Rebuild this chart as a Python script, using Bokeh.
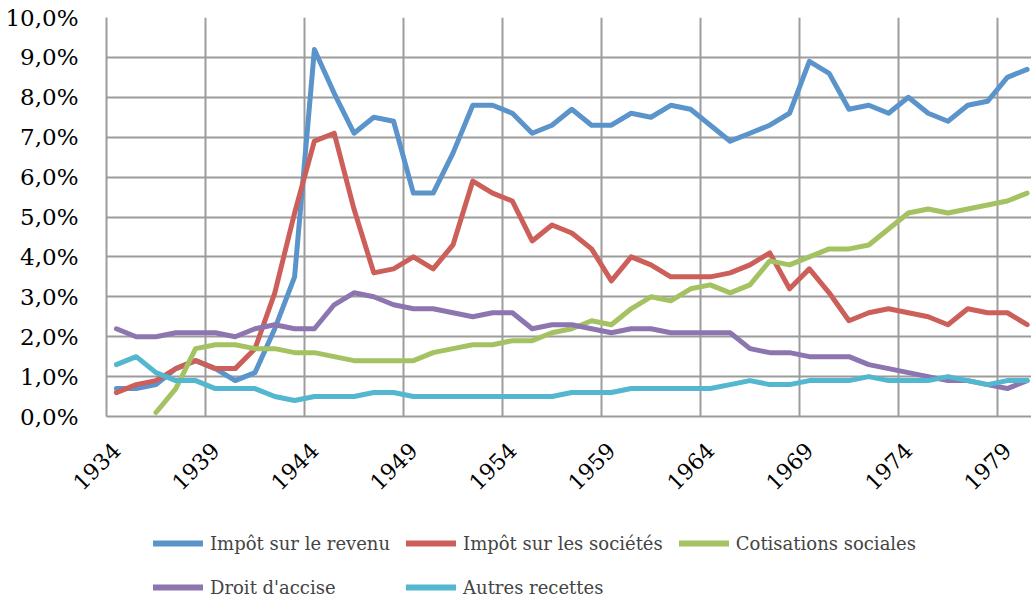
import math
from bokeh.plotting import figure
from bokeh.layouts import column
from bokeh.models import Range1d, FixedTicker, Legend, LegendItem
from bokeh.embed import file_html
from bokeh.resources import INLINE

years = list(range(1934, 1981))
nan = float("nan")

impot_revenu = [0.7, 0.7, 0.8, 1.2, 1.4, 1.2, 0.9, 1.1, 2.2, 3.5,
                9.2, 8.1, 7.1, 7.5, 7.4, 5.6, 5.6, 6.6, 7.8, 7.8,
                7.6, 7.1, 7.3, 7.7, 7.3, 7.3, 7.6, 7.5, 7.8, 7.7,
                7.3, 6.9, 7.1, 7.3, 7.6, 8.9, 8.6, 7.7, 7.8, 7.6,
                8.0, 7.6, 7.4, 7.8, 7.9, 8.5, 8.7]
impot_societes = [0.6, 0.8, 0.9, 1.2, 1.4, 1.2, 1.2, 1.7, 3.1, 5.1,
                  6.9, 7.1, 5.2, 3.6, 3.7, 4.0, 3.7, 4.3, 5.9, 5.6,
                  5.4, 4.4, 4.8, 4.6, 4.2, 3.4, 4.0, 3.8, 3.5, 3.5,
                  3.5, 3.6, 3.8, 4.1, 3.2, 3.7, 3.1, 2.4, 2.6, 2.7,
                  2.6, 2.5, 2.3, 2.7, 2.6, 2.6, 2.3]
cotisations = [nan, nan, 0.1, 0.7, 1.7, 1.8, 1.8, 1.7, 1.7, 1.6,
               1.6, 1.5, 1.4, 1.4, 1.4, 1.4, 1.6, 1.7, 1.8, 1.8,
               1.9, 1.9, 2.1, 2.2, 2.4, 2.3, 2.7, 3.0, 2.9, 3.2,
               3.3, 3.1, 3.3, 3.9, 3.8, 4.0, 4.2, 4.2, 4.3, 4.7,
               5.1, 5.2, 5.1, 5.2, 5.3, 5.4, 5.6]
droit_accise = [2.2, 2.0, 2.0, 2.1, 2.1, 2.1, 2.0, 2.2, 2.3, 2.2,
                2.2, 2.8, 3.1, 3.0, 2.8, 2.7, 2.7, 2.6, 2.5, 2.6,
                2.6, 2.2, 2.3, 2.3, 2.2, 2.1, 2.2, 2.2, 2.1, 2.1,
                2.1, 2.1, 1.7, 1.6, 1.6, 1.5, 1.5, 1.5, 1.3, 1.2,
                1.1, 1.0, 0.9, 0.9, 0.8, 0.7, 0.9]
autres = [1.3, 1.5, 1.1, 0.9, 0.9, 0.7, 0.7, 0.7, 0.5, 0.4,
          0.5, 0.5, 0.5, 0.6, 0.6, 0.5, 0.5, 0.5, 0.5, 0.5,
          0.5, 0.5, 0.5, 0.6, 0.6, 0.6, 0.7, 0.7, 0.7, 0.7,
          0.7, 0.8, 0.9, 0.8, 0.8, 0.9, 0.9, 0.9, 1.0, 0.9,
          0.9, 0.9, 1.0, 0.9, 0.8, 0.9, 0.9]

series_names = ["Impôt sur le revenu", "Impôt sur les sociétés", "Cotisations sociales",
                "Droit d'accise", "Autres recettes"]
series_values = [impot_revenu, impot_societes, cotisations, droit_accise, autres]
colors = ["#5A94CB", "#CC5F59", "#A5C262", "#8D75B0", "#52B7CF"]

x_label_years = list(range(1934, 1980, 5))
y_ticks = list(range(0, 11))
y_labels = {t: f"{t},0%" for t in y_ticks}

FONT = "DejaVu Serif"
GRID = "#9C9C9C"

p = figure(frame_width=925, frame_height=399,
           x_range=Range1d(1933.5, 1980.22), y_range=Range1d(0, 10),
           output_backend="svg", toolbar_location=None,
           min_border_left=106, min_border_top=17, min_border_right=0, min_border_bottom=100)
p.outline_line_color = None
p.background_fill_color = "white"

# axes
p.xaxis.ticker = FixedTicker(ticks=x_label_years)
p.xaxis.major_label_orientation = math.pi / 4
p.yaxis.ticker = FixedTicker(ticks=y_ticks)
p.yaxis.major_label_overrides = y_labels
for ax in (p.xaxis, p.yaxis):
    ax.axis_line_color = GRID
    ax.axis_line_width = 2
    ax.major_tick_line_color = None
    ax.minor_tick_line_color = None
    ax.major_label_text_font = FONT
    ax.major_label_text_color = "#000000"
p.yaxis.major_label_text_font_size = "23px"
p.xaxis.major_label_text_font_size = "22px"
p.yaxis.major_label_standoff = 22
p.xaxis.major_label_standoff = 24

# grids
p.xgrid.ticker = FixedTicker(ticks=[y - 0.5 for y in x_label_years])
p.xgrid.grid_line_color = GRID
p.xgrid.grid_line_width = 2
p.ygrid.grid_line_color = GRID
p.ygrid.grid_line_width = 2

for vals, col in zip(series_values, colors):
    p.line(years, vals, line_color=col, line_width=5, line_join="round", line_cap="round")

# legend strip below the chart (same series, drawn outside its visible range)
leg_fig = figure(width=1031, height=85, x_axis_type=None, y_axis_type=None,
                 x_range=Range1d(0, 1), y_range=Range1d(0, 1),
                 output_backend="svg", toolbar_location=None, min_border=0)
leg_fig.outline_line_color = None
leg_fig.grid.visible = False
items = []
for name, vals, col in zip(series_names, series_values, colors):
    r = leg_fig.line(years, vals, line_color=col, line_width=6, line_cap="round")
    items.append(LegendItem(label=name, renderers=[r]))

legend = Legend(items=items, ncols=3, orientation="horizontal", location=(47, 0),
                label_text_font=FONT, label_text_font_size="18px",
                glyph_width=50, glyph_height=28, label_height=28,
                label_standoff=7, spacing=16, padding=0, margin=0,
                border_line_color=None, background_fill_alpha=0)
leg_fig.add_layout(legend, "center")

layout = column(p, leg_fig, spacing=0)
open("out.html", "w").write(file_html(layout, INLINE))
